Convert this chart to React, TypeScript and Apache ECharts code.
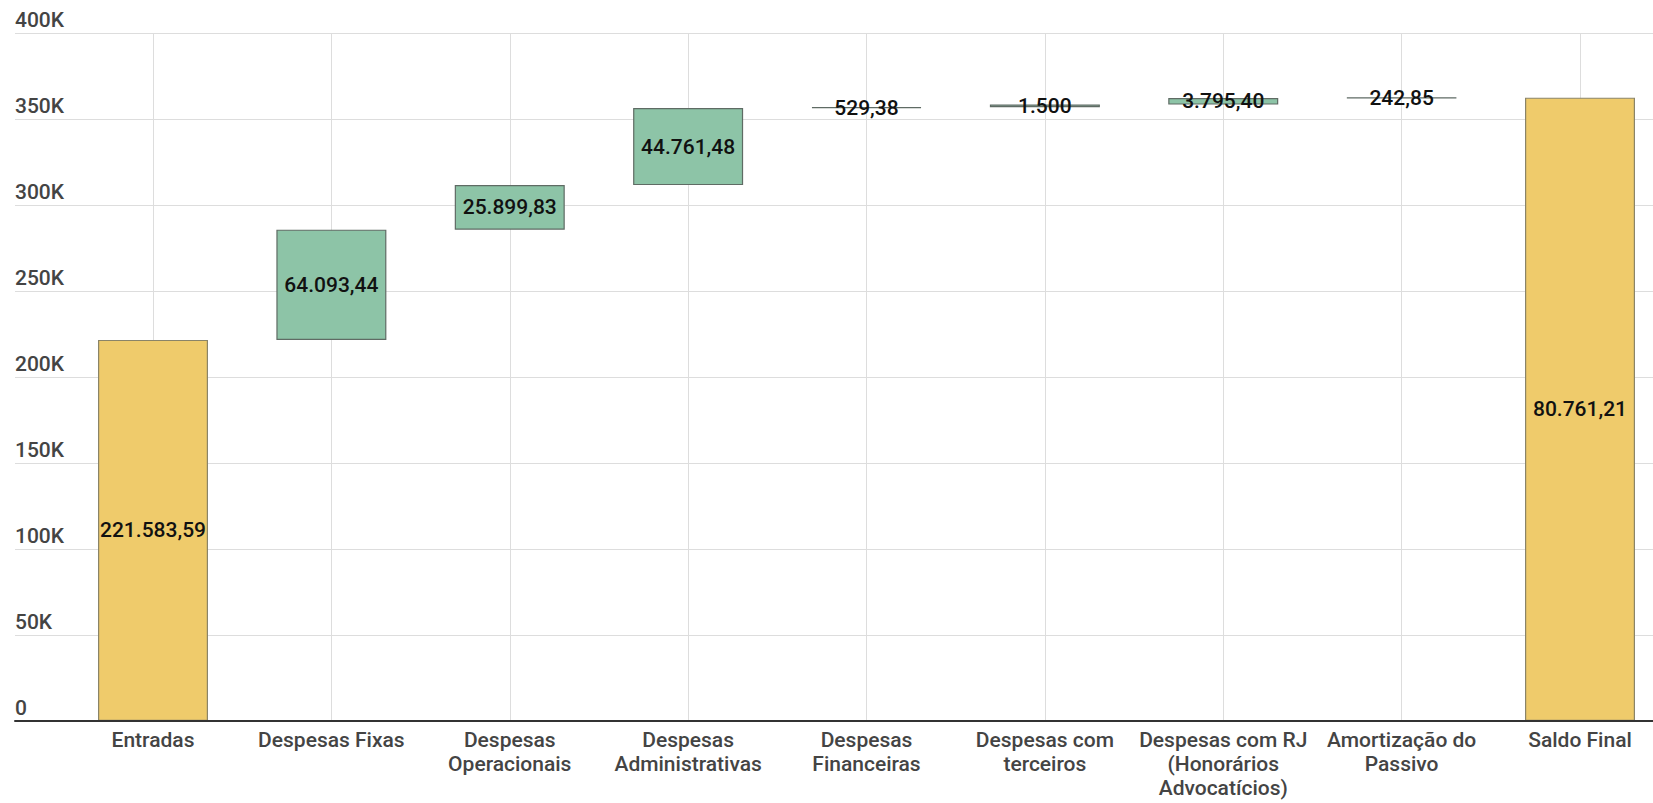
import React, { useEffect, useRef } from "react";
import * as echarts from "echarts";

const categories: string[] = [
  "Entradas",
  "Despesas Fixas",
  "Despesas\nOperacionais",
  "Despesas\nAdministrativas",
  "Despesas\nFinanceiras",
  "Despesas com\nterceiros",
  "Despesas com RJ\n(Honorários\nAdvocatícios)",
  "Amortização do\nPassivo",
  "Saldo Final",
];

const entradas = 221583.59;
const despesas: number[] = [64093.44, 25899.83, 44761.48, 529.38, 1500, 3795.4, 242.85];
const saldoFinalLabel = 80761.21;

const yTicks: number[] = [0, 50000, 100000, 150000, 200000, 250000, 300000, 350000, 400000];

const YELLOW = "#EFCB6B";
const GREEN = "#8DC4A7";

function fmtBR(v: number): string {
  const isInt = Math.abs(v - Math.round(v)) < 1e-9;
  const fixed = isInt ? Math.round(v).toString() : v.toFixed(2);
  const [intPart, dec] = fixed.split(".");
  const withDots = intPart.replace(/\B(?=(\d{3})+(?!\d))/g, ".");
  return dec ? withDots + "," + dec : withDots;
}

export default function App() {
  const ref = useRef<HTMLDivElement>(null);
  useEffect(() => {
    if (!ref.current) return;
    const chart = echarts.init(ref.current, undefined, { renderer: "svg" });

    const bases: number[] = [];
    const heights: number[] = [];
    const labels: string[] = [];
    const colors: string[] = [];
    bases.push(0);
    heights.push(entradas);
    labels.push(fmtBR(entradas));
    colors.push(YELLOW);
    let cum = entradas;
    despesas.forEach((d) => {
      bases.push(cum);
      heights.push(d);
      labels.push(fmtBR(d));
      colors.push(GREEN);
      cum += d;
    });
    bases.push(0);
    heights.push(cum);
    labels.push(fmtBR(saldoFinalLabel));
    colors.push(YELLOW);

    const font = "Roboto, 'Noto Sans', sans-serif";
    const yMax = yTicks[yTicks.length - 1];
    const yInterval = yTicks[1] - yTicks[0];

    chart.setOption({
      animation: false,
      backgroundColor: "#ffffff",
      grid: [
        { left: 15, right: 0, top: 33, bottom: 82 },
        { left: 153, right: 73, top: 33, bottom: 82 },
      ],
      xAxis: [
        {
          gridIndex: 0,
          type: "category",
          data: [""],
          axisLine: { show: true, lineStyle: { color: "#333333", width: 2 } },
          axisTick: { show: false },
          axisLabel: { show: false },
          splitLine: { show: false },
          z: 10,
        },
        {
          gridIndex: 1,
          type: "category",
          data: categories,
          boundaryGap: false,
          axisLine: { show: false },
          axisTick: { show: false },
          axisLabel: {
            interval: 0,
            color: "#444444",
            fontSize: 21,
            fontWeight: 500,
            fontFamily: font,
            lineHeight: 24,
            margin: 7,
            align: "center",
          },
          splitLine: { show: true, lineStyle: { color: "#dddddd", width: 1 } },
        },
      ],
      yAxis: [
        {
          gridIndex: 0,
          type: "value",
          min: 0,
          max: yMax,
          interval: yInterval,
          axisLine: { show: false },
          axisTick: { show: false },
          axisLabel: {
            inside: true,
            margin: 0,
            align: "left",
            verticalAlign: "bottom",
            padding: [0, 0, 3, 0],
            color: "#444444",
            fontSize: 21,
            fontWeight: 500,
            fontFamily: font,
            formatter: (v: number) => (v === 0 ? "0" : v / 1000 + "K"),
          },
          splitLine: { show: true, lineStyle: { color: "#dddddd", width: 1 } },
        },
        {
          gridIndex: 1,
          type: "value",
          min: 0,
          max: yMax,
          interval: yInterval,
          show: false,
          splitLine: { show: false },
        },
      ],
      series: [
        {
          type: "bar",
          xAxisIndex: 1,
          yAxisIndex: 1,
          stack: "wf",
          barWidth: 110,
          clip: false,
          silent: true,
          itemStyle: { color: "transparent", borderWidth: 0 },
          data: bases,
        },
        {
          type: "bar",
          xAxisIndex: 1,
          yAxisIndex: 1,
          stack: "wf",
          barWidth: 110,
          clip: false,
          data: heights.map((h, i) => ({
            value: h,
            itemStyle: {
              color: colors[i],
              borderColor: colors[i] === YELLOW ? "#8a8468" : "#5f6b64",
              borderWidth: 1.2,
            },
          })),
          label: {
            show: true,
            position: "inside",
            color: "#111111",
            fontSize: 21,
            fontWeight: 500,
            fontFamily: font,
            formatter: (p: any) => labels[p.dataIndex],
          },
        },
      ],
    });
    return () => chart.dispose();
  }, []);
  return (
    <div
      ref={ref}
      style={{ position: "absolute", left: 0, top: 0, width: 1653, height: 803 }}
    />
  );
}
